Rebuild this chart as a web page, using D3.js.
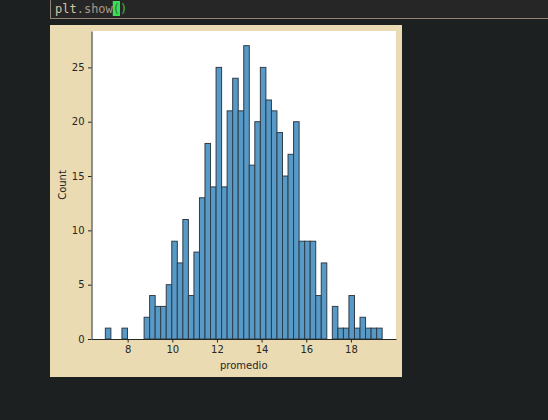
<!DOCTYPE html>
<html>
<head>
<meta charset="utf-8">
<script src="https://cdn.jsdelivr.net/npm/d3@7"></script>
<style>
  html, body { margin: 0; padding: 0; background: #1d2021; }
  svg { display: block; }
  .axis text { font-family: "DejaVu Sans", sans-serif; font-size: 10px; fill: #262626; }
  .axis path, .axis line { stroke: #262626; stroke-width: 1; }
  .label { font-family: "DejaVu Sans", sans-serif; font-size: 10px; fill: #262626; }
</style>
</head>
<body>
<script>
// histogram of "promedio", 50 bins between binStart and binEnd
var binStart = 7.0, binEnd = 19.4;
var counts = [1, 0, 0, 1, 0, 0, 0, 2, 4, 3,
              3, 5, 9, 7, 11, 4, 8, 13, 18, 14,
              25, 14, 21, 24, 21, 27, 16, 20, 25, 22,
              21, 19, 15, 17, 20, 9, 9, 9, 4, 7,
              0, 3, 1, 1, 4, 1, 2, 1, 1, 1];
var xTicks = [8, 10, 12, 14, 16, 18];
var yTicks = [0, 5, 10, 15, 20, 25];

var W = 548, H = 420;
var svg = d3.select('body').append('svg')
    .attr('width', W)
    .attr('height', H);

// notebook code cell above the figure
var cell = svg.append('g');
cell.append('rect')
    .attr('x', 50.5).attr('y', -1)
    .attr('width', 510).attr('height', 19.5)
    .attr('fill', '#262626')
    .attr('stroke', '#928374');
// bracket highlight, under the text
var charW = 7.22;
cell.append('rect')
    .attr('x', 55 + 8 * charW).attr('y', 1)
    .attr('width', charW).attr('height', 15)
    .attr('fill', '#3ddc5a');
var code = cell.append('text')
    .attr('x', 55).attr('y', 13)
    .style('font-family', '"DejaVu Sans Mono", monospace')
    .style('font-size', '12px');
code.append('tspan').attr('fill', '#d5c4a1').text('plt');
code.append('tspan').attr('fill', '#a89984').text('.show');
code.append('tspan').attr('fill', '#1f7a30').text('(');
code.append('tspan').attr('fill', '#3fb950').text(')');

// figure background
var fig = {x: 50, y: 25, w: 352, h: 352};
svg.append('rect')
    .attr('x', fig.x).attr('y', fig.y)
    .attr('width', fig.w).attr('height', fig.h)
    .attr('fill', '#ebdbb2');

var margin = {left: 91.5, top: 31, right: 396, bottom: 339};
var width = margin.right - margin.left, height = margin.bottom - margin.top;

svg.append('rect')
    .attr('x', margin.left).attr('y', margin.top)
    .attr('width', width).attr('height', height)
    .attr('fill', '#ffffff');

var g = svg.append('g')
    .attr('transform', 'translate(' + margin.left + ',' + margin.top + ')');

var binW = (binEnd - binStart) / counts.length;
var bins = counts.map(function(c, i) {
    return {x0: binStart + i * binW, x1: binStart + (i + 1) * binW, n: c};
});

var span = binEnd - binStart;
var x = d3.scaleLinear()
    .domain([binStart - 0.05 * span, binEnd + 0.05 * span])
    .range([0, width]);
var y = d3.scaleLinear()
    .domain([0, d3.max(counts) * 1.05])
    .range([height, 0]);

g.append('g')
  .selectAll('rect')
  .data(bins.filter(function(d) { return d.n > 0; }))
  .enter()
  .append('rect')
    .attr('x', function(d) { return x(d.x0); })
    .attr('y', function(d) { return y(d.n); })
    .attr('width', function(d) { return x(d.x1) - x(d.x0); })
    .attr('height', function(d) { return y(0) - y(d.n); })
    .attr('fill', '#5799c7')
    .attr('stroke', '#2f3d48')
    .attr('stroke-width', 1);

var xAxis = d3.axisBottom(x)
    .tickValues(xTicks)
    .tickSize(3.5)
    .tickPadding(3.5)
    .tickSizeOuter(0);
var yAxis = d3.axisLeft(y)
    .tickValues(yTicks)
    .tickSize(3.5)
    .tickPadding(3.5)
    .tickSizeOuter(0);

g.append('g')
    .attr('class', 'x axis')
    .attr('transform', 'translate(0,' + height + ')')
    .call(xAxis);
g.append('g')
    .attr('class', 'y axis')
    .call(yAxis);

g.append('text')
    .attr('class', 'label')
    .attr('x', width / 2).attr('y', height + 30)
    .attr('text-anchor', 'middle')
    .text('promedio');
g.append('text')
    .attr('class', 'label')
    .attr('transform', 'translate(-26,' + (height / 2) + ')rotate(-90)')
    .attr('text-anchor', 'middle')
    .text('Count');
</script>
</body>
</html>
